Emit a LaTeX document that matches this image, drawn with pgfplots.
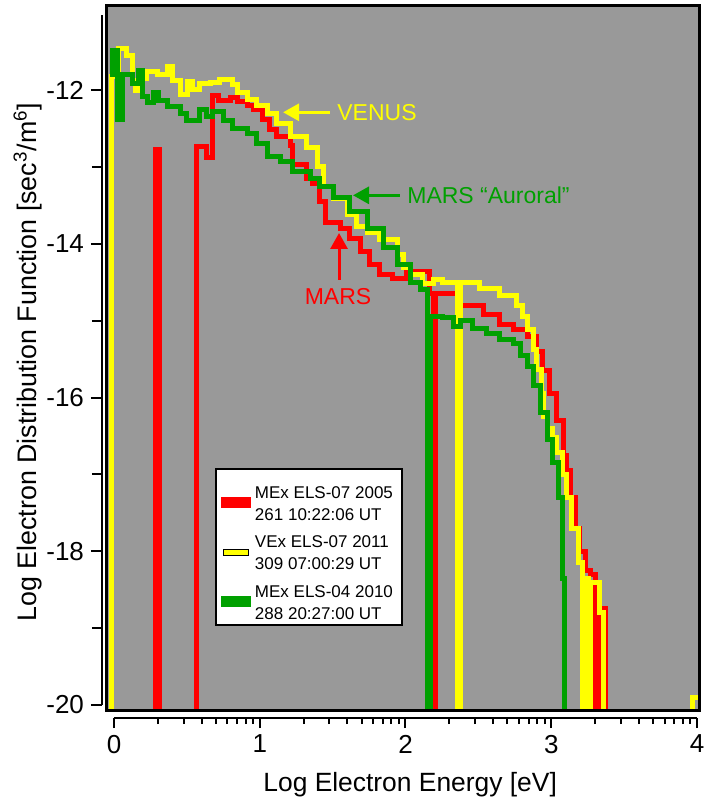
\documentclass[border=0pt]{standalone}
\usepackage{fontspec}
\setmainfont{Liberation Sans}
\usepackage{pgfplots}
\pgfplotsset{compat=1.18}
\usetikzlibrary{arrows.meta}
\definecolor{bggray}{RGB}{153,153,153}
\definecolor{cred}{RGB}{255,0,0}
\definecolor{cyel}{RGB}{255,255,0}
\definecolor{cgrn}{RGB}{0,160,0}

\pgfplotstableread{
x y
-0.05 -21
0.283 -12.77
0.31 -21
0.567 -12.74
0.638 -12.88
0.679 -12.07
0.714 -12.13
0.796 -12.10
0.844 -12.15
0.913 -12.20
0.954 -12.26
1.022 -12.39
1.070 -12.52
1.118 -12.61
1.208 -12.72
1.228 -12.97
1.324 -13.15
1.365 -13.22
1.413 -13.45
1.450 -13.72
1.551 -13.80
1.619 -13.93
1.688 -14.10
1.756 -14.27
1.825 -14.40
1.914 -14.45
2.010 -14.36
2.165 -14.65
2.19 -21
2.205 -14.65
2.374 -14.80
2.532 -14.92
2.648 -15.05
2.738 -15.11
2.834 -15.20
2.900 -15.40
2.943 -15.65
2.991 -15.95
3.039 -16.30
3.081 -16.75
3.108 -16.95
3.135 -17.30
3.163 -17.70
3.197 -18.00
3.232 -18.25
3.266 -18.30
3.305 -21
3.322 -18.74
3.375 -21
4.03 -21
}\redtab

\pgfplotstableread{
x y
-0.05 -21
-0.014 -11.83
0.030 -11.46
0.089 -11.55
0.124 -11.87
0.145 -12.00
0.170 -11.85
0.226 -11.76
0.300 -11.80
0.364 -11.70
0.398 -11.88
0.453 -12.06
0.501 -11.89
0.542 -11.99
0.590 -11.92
0.659 -11.90
0.727 -11.86
0.816 -11.93
0.844 -12.03
0.913 -12.12
0.981 -12.20
1.050 -12.30
1.118 -12.44
1.208 -12.60
1.324 -12.75
1.393 -13.00
1.434 -13.25
1.503 -13.41
1.599 -13.62
1.667 -13.77
1.736 -13.86
1.825 -13.95
1.942 -14.14
1.983 -14.31
2.031 -14.40
2.120 -14.52
2.189 -14.47
2.257 -14.50
2.360 -21
2.374 -14.51
2.511 -14.58
2.648 -14.67
2.765 -14.80
2.800 -14.95
2.840 -15.12
2.875 -15.38
2.900 -15.64
2.930 -15.95
2.950 -16.25
2.971 -16.40
3.012 -16.52
3.039 -16.72
3.074 -17.00
3.108 -17.30
3.142 -17.70
3.184 -18.15
3.212 -21
3.228 -18.35
3.255 -21
3.270 -18.40
3.330 -18.80
3.357 -21
3.966 -19.90
4.03 -19.90
}\yeltab

\pgfplotstableread{
x y
-0.025 -11.80
-0.007 -11.48
0.021 -12.39
0.055 -11.80
0.130 -11.91
0.165 -11.74
0.199 -12.08
0.233 -12.16
0.268 -12.03
0.302 -12.13
0.364 -12.22
0.453 -12.30
0.500 -12.40
0.590 -12.26
0.638 -12.35
0.679 -12.28
0.748 -12.40
0.816 -12.50
0.913 -12.56
0.981 -12.70
1.050 -12.86
1.139 -12.93
1.228 -13.06
1.345 -13.15
1.413 -13.25
1.503 -13.40
1.619 -13.58
1.736 -13.80
1.846 -14.05
1.942 -14.27
2.031 -14.50
2.100 -14.60
2.150 -21
2.170 -14.95
2.257 -14.96
2.326 -15.08
2.374 -15.00
2.463 -15.10
2.559 -15.17
2.648 -15.24
2.738 -15.30
2.786 -15.45
2.834 -15.60
2.875 -15.85
2.923 -16.20
2.971 -16.55
3.012 -16.85
3.050 -17.30
3.074 -18.35
3.094 -21
4.03 -21
}\grntab

\begin{document}
\begin{tikzpicture}
\useasboundingbox (-53.5pt,-44pt) rectangle (301pt,355.5pt);
% main framed axis with data
\begin{axis}[
  at={(0pt,0pt)}, anchor=south west,
  scale only axis, width=296.5pt, height=352.5pt,
  xmin=-0.048, xmax=4.0206, ymin=-20.078, ymax=-10.907,
  xtick=\empty, ytick=\empty,
  axis background/.style={fill=bggray},
  axis line style={line width=1.5pt},
  axis on top,
  legend style={at={(rel axis cs:0.1821,0.1206)}, anchor=south west,
    draw=black, line width=1pt, fill=white,
    font=\fontsize{8.5}{11}\selectfont,
    inner xsep=2.5pt, inner ysep=5pt, row sep=6.25pt,
    cells={anchor=west}},
  legend cell align=left,
]
\addplot[cred, const plot, line width=2.5pt, line join=miter, no marks,
  legend image code/.code={\fill[cred] (0pt,-4.2pt) rectangle (12.5pt,-1.2pt);}]
  table[x=x,y=y] {\redtab};
\addlegendentry{\begin{tabular}{@{}l@{}}MEx ELS-07 2005\\261 10:22:06 UT\end{tabular}}
\addplot[cyel, const plot, line width=2.5pt, line join=miter, no marks,
  legend image code/.code={\filldraw[fill=cyel, draw=black, line width=0.5pt] (0pt,-4.2pt) rectangle (12.5pt,-1.2pt);}]
  table[x=x,y=y] {\yeltab};
\addlegendentry{\begin{tabular}{@{}l@{}}VEx ELS-07 2011\\309 07:00:29 UT\end{tabular}}
\addplot[cgrn, const plot, line width=2.5pt, line join=miter, no marks,
  legend image code/.code={\fill[cgrn] (0pt,-4.2pt) rectangle (12.5pt,-1.2pt);}]
  table[x=x,y=y] {\grntab};
\addlegendentry{\begin{tabular}{@{}l@{}}MEx ELS-04 2010\\288 20:27:00 UT\end{tabular}}

\draw[cyel, line width=1.5pt, -{Triangle[length=8pt,width=8.5pt]}] (axis cs:1.482,-12.29) -- (axis cs:1.160,-12.29);
\node[text=cyel, anchor=west, inner sep=0pt, font=\fontsize{11.5}{13}\selectfont] at (axis cs:1.53,-12.30) {VENUS};
\draw[cgrn, line width=1.5pt, -{Triangle[length=8pt,width=8.5pt]}] (axis cs:1.962,-13.37) -- (axis cs:1.640,-13.37);
\node[text=cgrn, anchor=west, inner sep=0pt, font=\fontsize{11.5}{13}\selectfont] at (axis cs:2.010,-13.37) {MARS “Auroral”};
\draw[cred, line width=1.5pt, -{Triangle[length=8pt,width=8.5pt]}] (axis cs:1.544,-14.47) -- (axis cs:1.544,-13.86);
\node[text=cred, anchor=center, inner sep=0pt, font=\fontsize{11.5}{13}\selectfont] at (axis cs:1.537,-14.69) {MARS};
\end{axis}

% detached x axis
\begin{axis}[
  at={(3.5pt,-3.5pt)}, anchor=south west,
  scale only axis, width=291.5pt, height=352.5pt,
  xmin=0, xmax=4, ymin=0, ymax=1,
  axis x line=bottom, axis y line=none,
  axis line style={-, line width=1pt},
  x axis line style={-},
  xtick={0,1,2,3,4}, xticklabels={0,1,2,3,4},
  minor xtick={0.30103,0.47712,0.60206,0.69897,0.77815,0.84510,0.90309,0.95424,
    1.30103,1.47712,1.60206,1.69897,1.77815,1.84510,1.90309,1.95424,
    2.30103,2.47712,2.60206,2.69897,2.77815,2.84510,2.90309,2.95424,
    3.30103,3.47712,3.60206,3.69897,3.77815,3.84510,3.90309,3.95424},
  ytick=\empty,
  xtick align=outside,
  major tick length=5pt, minor tick length=3pt,
  every tick/.style={line width=1pt, black},
  xticklabel style={font=\fontsize{13}{15}\selectfont},
  xlabel={Log Electron Energy [eV]},
  xlabel style={font=\fontsize{13.2}{15}\selectfont, at={(axis description cs:0.508,-0.094)}, anchor=center},
]
\end{axis}

% detached y axis
\begin{axis}[
  at={(-2.5pt,3pt)}, anchor=south west,
  scale only axis, width=296.5pt, height=345pt,
  ymin=-20, ymax=-11.024, xmin=0, xmax=1,
  axis y line=left, axis x line=none,
  axis line style={-, line width=1pt},
  y axis line style={-},
  ytick={-20,-18,-16,-14,-12}, yticklabels={-20,-18,-16,-14,-12},
  minor ytick={-19,-17,-15,-13},
  xtick=\empty,
  ytick align=outside,
  major tick length=5.5pt, minor tick length=5pt,
  every tick/.style={line width=1pt, black},
  yticklabel style={font=\fontsize{13}{15}\selectfont},
  ylabel={Log Electron Distribution Function [sec\textsuperscript{3}/m\textsuperscript{6}]},
  ylabel style={font=\fontsize{13.4}{15}\selectfont, at={(axis description cs:-0.1248,0.497)}, anchor=center},
]
\end{axis}
\end{tikzpicture}
\end{document}
